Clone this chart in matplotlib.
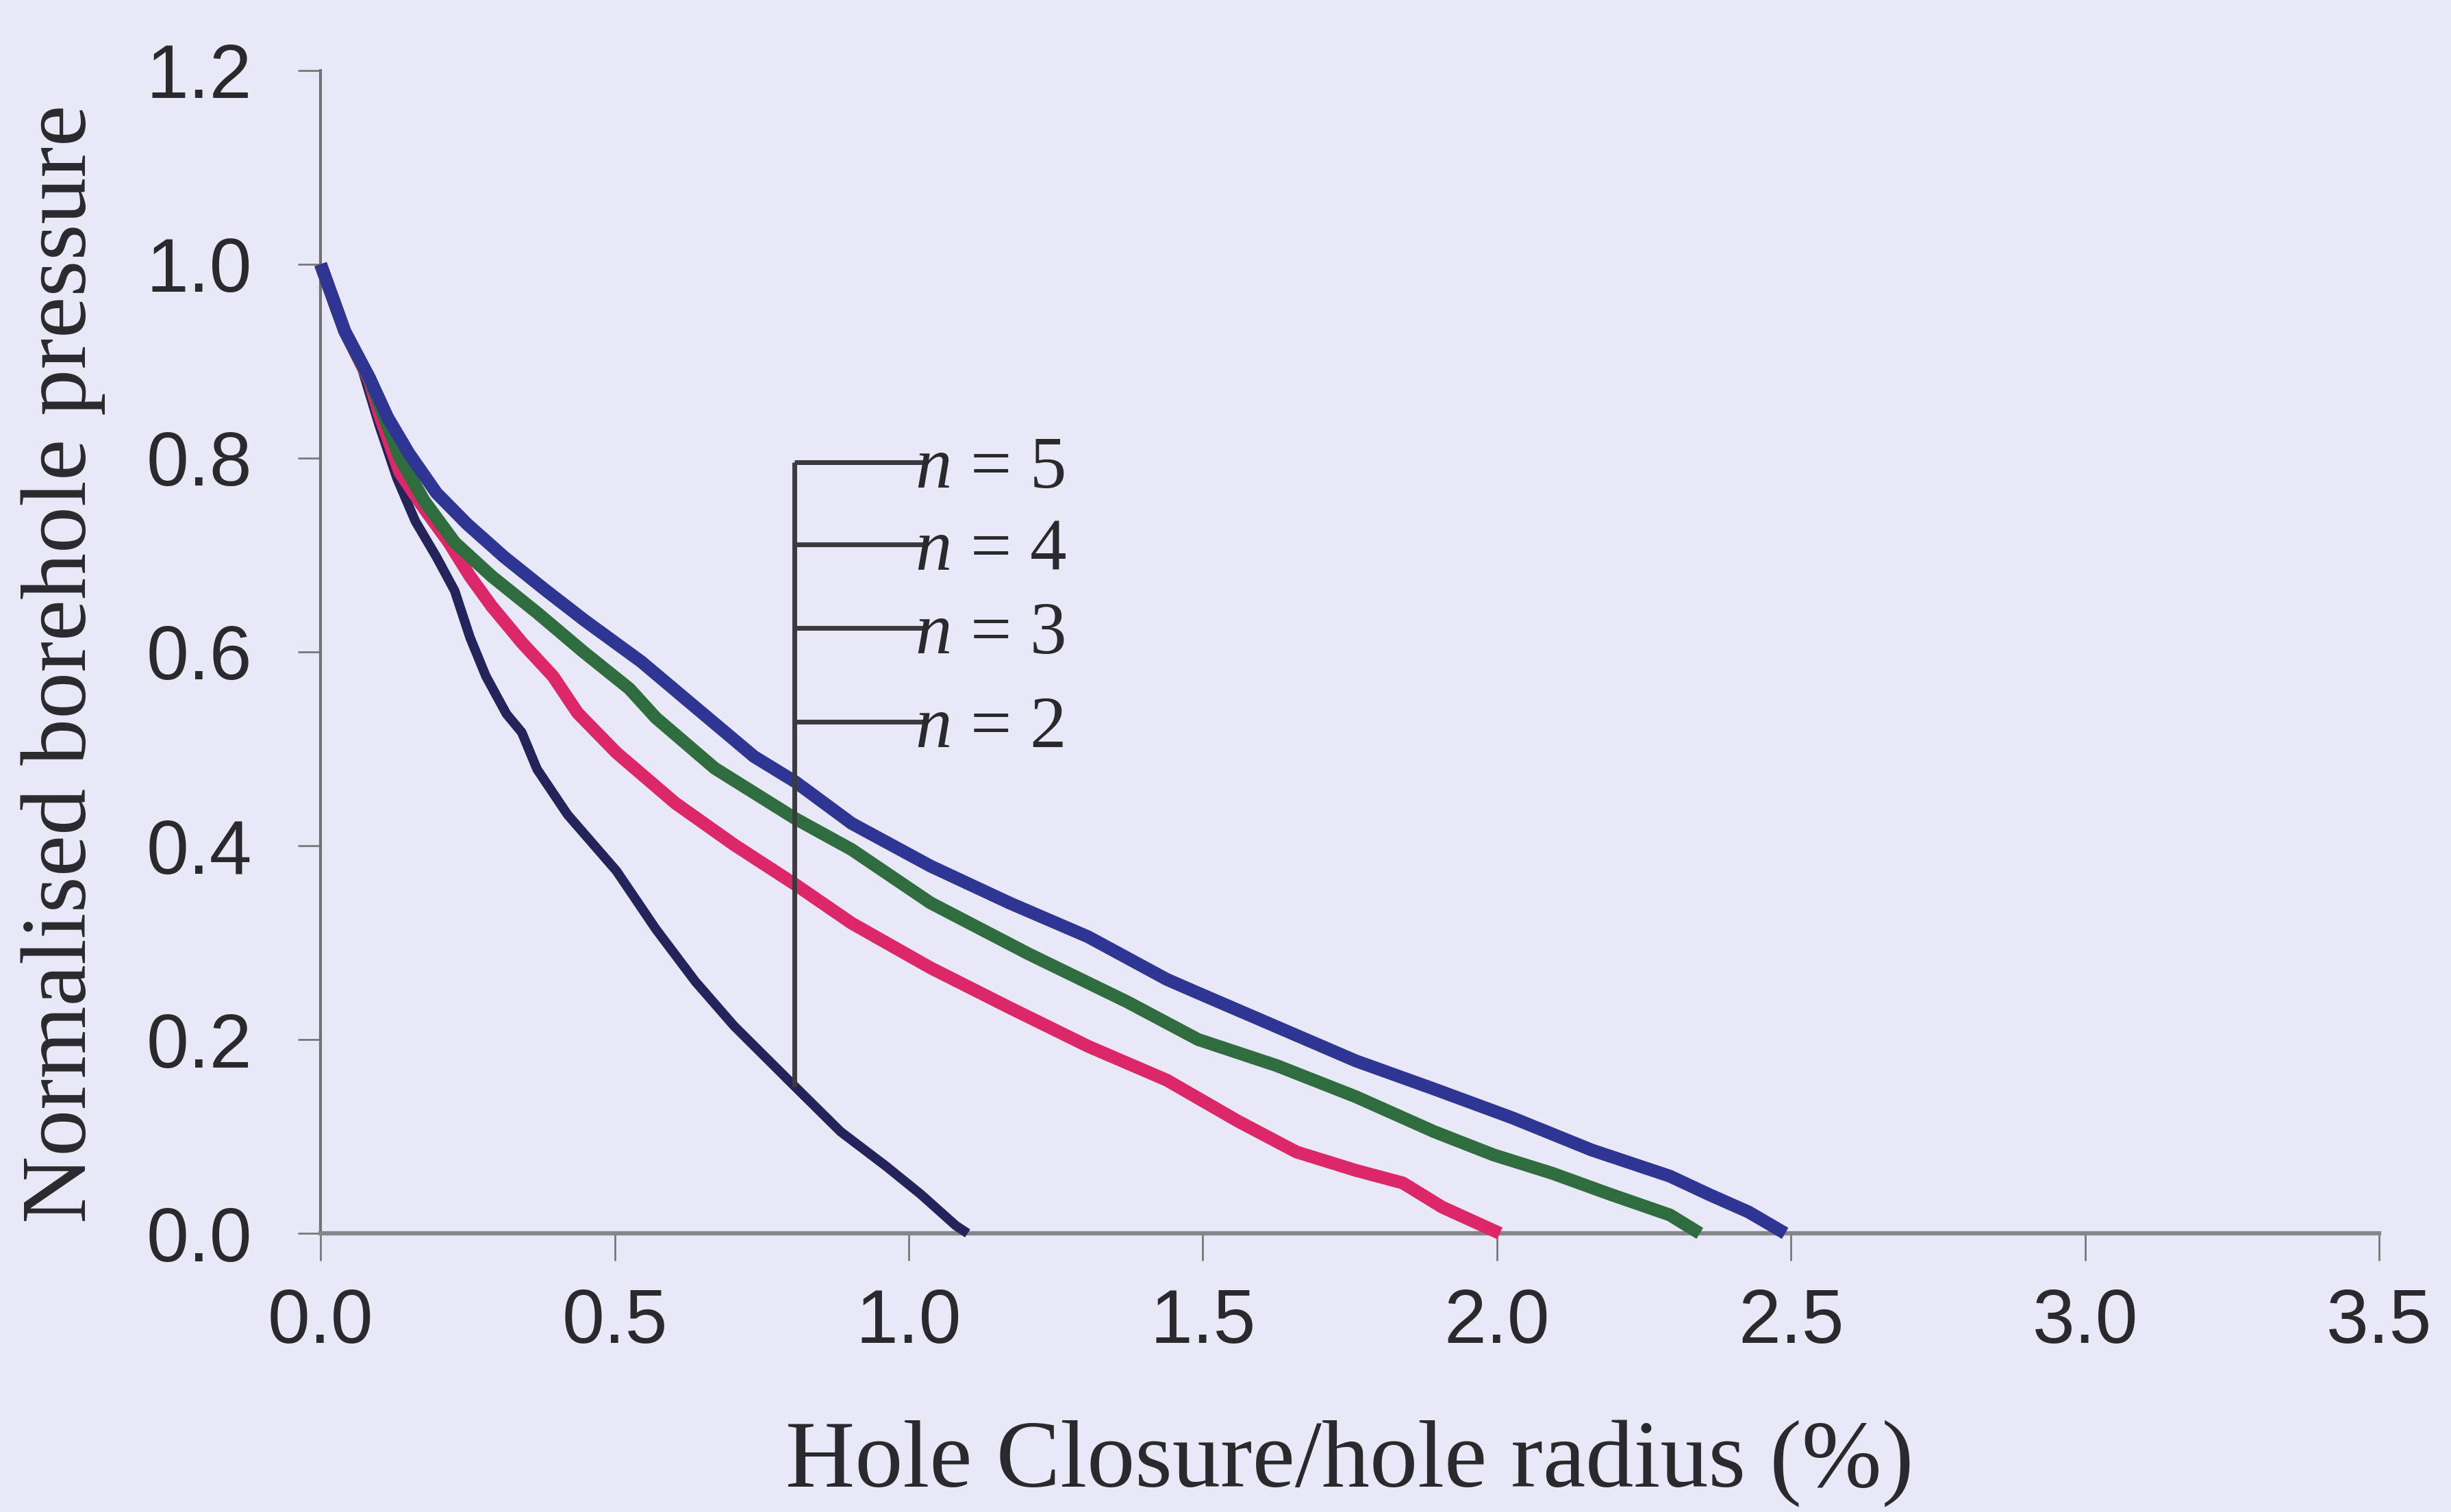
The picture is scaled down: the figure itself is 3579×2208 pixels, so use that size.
import matplotlib

matplotlib.use("Agg")
import matplotlib.pyplot as plt

# Hole closure (% of hole radius) vs normalised borehole pressure, one curve per n
closure_n2 = [0.0, 0.041, 0.067, 0.099, 0.130, 0.161, 0.197, 0.228, 0.254, 0.281,
              0.316, 0.342, 0.368, 0.420, 0.503, 0.570, 0.637, 0.703, 0.804, 0.884,
              0.962, 1.021, 1.080, 1.100]
pressure_n2 = [1.0, 0.932, 0.899, 0.835, 0.779, 0.735, 0.698, 0.663, 0.615, 0.575,
               0.536, 0.517, 0.479, 0.432, 0.374, 0.314, 0.260, 0.214, 0.153, 0.105,
               0.069, 0.040, 0.008, 0.0]

closure_n3 = [0.0, 0.041, 0.083, 0.100, 0.135, 0.176, 0.218, 0.254, 0.291, 0.343,
              0.395, 0.437, 0.503, 0.603, 0.703, 0.807, 0.903, 1.037, 1.171, 1.305,
              1.439, 1.559, 1.659, 1.760, 1.840, 1.907, 2.005]
pressure_n3 = [1.0, 0.931, 0.880, 0.845, 0.785, 0.748, 0.713, 0.678, 0.647, 0.609,
               0.575, 0.537, 0.496, 0.444, 0.401, 0.360, 0.320, 0.274, 0.233, 0.193,
               0.158, 0.116, 0.084, 0.065, 0.052, 0.027, 0.0]

closure_n4 = [0.0, 0.041, 0.083, 0.135, 0.176, 0.228, 0.291, 0.369, 0.447, 0.525,
              0.570, 0.670, 0.807, 0.903, 1.037, 1.205, 1.371, 1.492, 1.626, 1.760,
              1.893, 1.994, 2.094, 2.194, 2.294, 2.345]
pressure_n4 = [1.0, 0.931, 0.882, 0.800, 0.756, 0.713, 0.678, 0.640, 0.600, 0.562,
               0.532, 0.480, 0.428, 0.396, 0.341, 0.288, 0.239, 0.200, 0.173, 0.141,
               0.105, 0.081, 0.062, 0.040, 0.019, 0.0]

closure_n5 = [0.0, 0.041, 0.083, 0.114, 0.150, 0.197, 0.249, 0.312, 0.384, 0.450,
              0.545, 0.637, 0.737, 0.807, 0.903, 1.037, 1.171, 1.305, 1.439, 1.492,
              1.626, 1.760, 1.893, 2.027, 2.161, 2.294, 2.361, 2.428, 2.490]
pressure_n5 = [1.0, 0.931, 0.883, 0.842, 0.805, 0.764, 0.732, 0.698, 0.663, 0.632,
               0.590, 0.543, 0.492, 0.466, 0.423, 0.379, 0.341, 0.306, 0.262, 0.248,
               0.213, 0.178, 0.149, 0.119, 0.086, 0.059, 0.040, 0.022, 0.0]

n_labels = ["$n$ = 5", "$n$ = 4", "$n$ = 3", "$n$ = 2"]
x_ticks = [0.0, 0.5, 1.0, 1.5, 2.0, 2.5, 3.0, 3.5]
y_ticks = [0.0, 0.2, 0.4, 0.6, 0.8, 1.0, 1.2]

# leader lines for the curve labels
leader_x = 0.806
leader_bottom = 0.151
leader_levels = [0.796, 0.711, 0.625, 0.528]
leader_end = 1.025

BG = "#e9e8f6"
INK = "#2a2a2e"

plt.rcParams["mathtext.fontset"] = "custom"
plt.rcParams["mathtext.it"] = "Liberation Serif:italic"
plt.rcParams["mathtext.rm"] = "Liberation Serif"

fig = plt.figure(figsize=(35.79, 22.08), dpi=100, facecolor=BG)
ax = fig.add_axes([0.1308, 0.1843, 0.8399, 0.7691], facecolor=BG)

curves = [
    (closure_n2, pressure_n2, "#24245a", 10.0),
    (closure_n3, pressure_n3, "#dc2868", 13.5),
    (closure_n4, pressure_n4, "#2f6d3e", 13.5),
    (closure_n5, pressure_n5, "#2f3592", 13.5),
]
for xs, ys, color, lw in curves:
    ax.plot(xs, ys, color=color, lw=lw, solid_capstyle="butt",
            solid_joinstyle="round", clip_on=False, zorder=3)

ax.plot([leader_x, leader_x], [leader_bottom, leader_levels[0]],
        color="#3a3a3e", lw=5, zorder=4, solid_capstyle="butt")
for level, label in zip(leader_levels, n_labels):
    ax.plot([leader_x, leader_end], [level, level], color="#3a3a3e", lw=5,
            zorder=4, solid_capstyle="butt")
    ax.text(1.010, level, label, fontsize=77, family="Liberation Serif",
            color=INK, ha="left", va="center_baseline", zorder=5)

ax.set_xlim(0, 3.5)
ax.set_ylim(0, 1.2)
ax.set_xticks(x_ticks)
ax.set_yticks(y_ticks)
ax.set_xticklabels([f"{v:.1f}" for v in x_ticks])
ax.set_yticklabels([f"{v:.1f}" for v in y_ticks])

for side in ("top", "right"):
    ax.spines[side].set_visible(False)
ax.spines["left"].set_color("#707076")
ax.spines["left"].set_linewidth(3.0)
ax.spines["bottom"].set_color("#85858c")
ax.spines["bottom"].set_linewidth(4.5)

ax.tick_params(axis="x", direction="out", length=29, width=2.0, color="#77777c",
               pad=28, labelsize=80, labelcolor=INK)
ax.tick_params(axis="y", direction="out", length=24, width=2.0, color="#77777c",
               pad=48, labelsize=80, labelcolor=INK)
for lbl in ax.get_xticklabels() + ax.get_yticklabels():
    lbl.set_family("Liberation Sans")

ax.set_xlabel("Hole Closure/hole radius (%)", family="Liberation Serif",
              fontsize=101, color=INK, va="center")
ax.xaxis.set_label_coords(0.5, -0.198)
ax.set_ylabel("Normalised borehole pressure", family="Liberation Serif",
              fontsize=98, color=INK, va="center")
ax.yaxis.set_label_coords(-0.125, 0.49)

fig.savefig("out.png", dpi=100, facecolor=BG)
